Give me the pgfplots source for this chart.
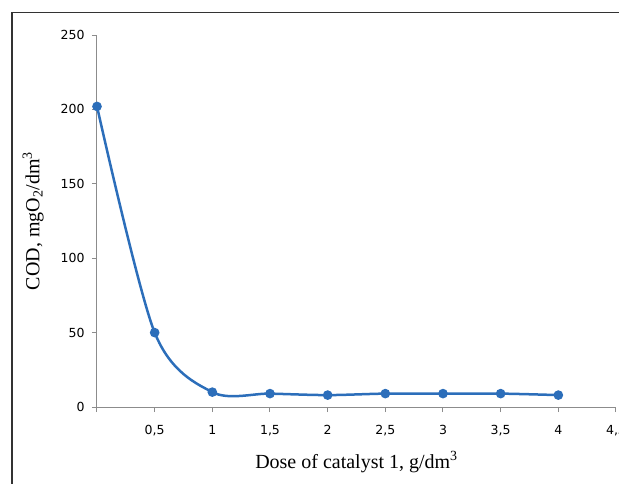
\documentclass[border=0pt]{standalone}
\usepackage{fontspec}
\setmainfont{Liberation Serif}
\newfontfamily\tickfont{DejaVu Sans}
\usepackage{pgfplots}
\pgfplotsset{compat=1.18}
\definecolor{excelblue}{RGB}{44,110,186}
\begin{document}
\begin{tikzpicture}[x=1pt,y=1pt]
\useasboundingbox (0,0) rectangle (619,483);
\clip (0,0) rectangle (619,483);
% outer frame (right and bottom edges fall outside the crop)
\draw[line width=1.5pt, black!80] (12,-5) -- (12,470.5) -- (640,470.5);
\begin{axis}[
   at={(97pt,76pt)}, anchor=south west,
   scale only axis,
   width=519pt, height=372pt,
   xmin=0, xmax=4.5,
   ymin=0, ymax=250,
   axis lines*=left,
   axis line style={-, draw=gray!90, line width=1pt},
   tick align=outside,
   major tick length=5pt,
   tick style={gray!90, line width=1pt},
   xtick={0,0.5,1,1.5,2,2.5,3,3.5,4,4.5},
   xticklabels={,{0,5},1,{1,5},2,{2,5},3,{3,5},4,{4,5}},
   ytick={0,50,100,150,200,250},
   yticklabels={0,50,100,150,200,250},
   ticklabel style={font=\tickfont\fontsize{12.5}{14}\selectfont},
   xticklabel style={yshift=-10pt},
   yticklabel style={xshift=-4pt},
   xlabel={Dose of catalyst 1, g/dm\textsuperscript{3}},
   ylabel={COD, mgO\textsubscript{2}/dm\textsuperscript{3}},
   label style={font=\fontsize{20}{24}\selectfont},
   xlabel style={at={(axis description cs:0.5,-0.148)}, anchor=center},
   ylabel style={at={(axis description cs:-0.123,0.5)}, anchor=center},
   clip=false,
 ]
   \addplot[excelblue, line width=2.5pt, smooth, mark=*, mark size=3.5pt,
            mark options={solid, fill=excelblue}]
     coordinates {(0,202) (0.5,50) (1,10) (1.5,9) (2,8) (2.5,9) (3,9) (3.5,9) (4,8)};
\end{axis}
\end{tikzpicture}
\end{document}
